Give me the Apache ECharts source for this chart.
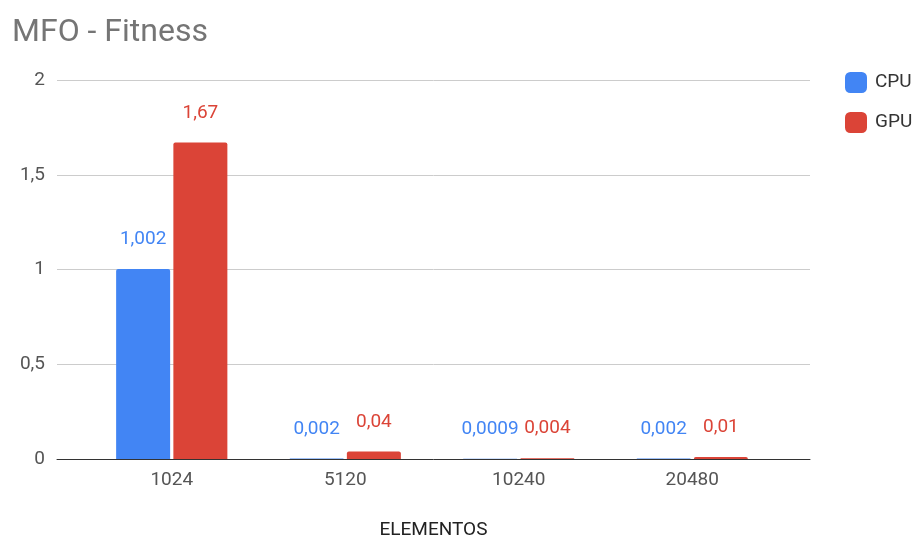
<!DOCTYPE html>
<html><head><meta charset="utf-8">
<script src="https://cdn.jsdelivr.net/npm/echarts@6/dist/echarts.min.js"></script>
<style>html,body{margin:0;padding:0;background:#fff}#c{width:914px;height:541px}</style>
</head><body><div id="c"></div>
<script>
const categories = ['1024', '5120', '10240', '20480'];
const cpu = [1.002, 0.002, 0.0009, 0.002];
const gpu = [1.67, 0.04, 0.004, 0.01];
const yTicks = [0, 0.5, 1, 1.5, 2];

const fmt = v => String(v).replace('.', ',');
const chart = echarts.init(document.getElementById('c'));
const font = 'Roboto';
const fs = 19;
chart.setOption({
  animation: false,
  textStyle: { fontFamily: font },
  title: { text: 'MFO - Fitness', left: 7, top: 12, textStyle: { fontFamily: font, fontSize: 32, fontWeight: 'normal', color: '#757575' } },
  legend: {
    orient: 'vertical', left: 840, top: 67, itemWidth: 22, itemHeight: 21, itemGap: 19,
    icon: 'roundRect',
    textStyle: { fontFamily: font, fontSize: fs, color: '#333', padding: [0, 0, 0, 3] },
    data: ['CPU', 'GPU']
  },
  grid: [
    { left: 57, right: 104, top: 80, bottom: 82, containLabel: false, outerBoundsMode: 'none' },
    { left: 85, right: 135, top: 80, bottom: 82, containLabel: false, outerBoundsMode: 'none' }
  ],
  xAxis: [
    { gridIndex: 0, type: 'category', data: categories, axisLine: { lineStyle: { color: '#333' } }, axisTick: { show: false }, axisLabel: { show: false },
      name: 'ELEMENTOS', nameLocation: 'middle', nameGap: 62, nameTextStyle: { fontFamily: font, fontSize: fs, color: '#222' } },
    { gridIndex: 1, type: 'category', data: categories, axisLine: { show: false }, axisTick: { show: false },
      axisLabel: { fontFamily: font, fontSize: fs, color: '#555', margin: 12 } }
  ],
  yAxis: [
    { gridIndex: 0, type: 'value', min: 0, max: 2, interval: 0.5, axisLine: { show: false }, axisTick: { show: false },
      axisLabel: { fontFamily: font, fontSize: fs, color: '#555', margin: 12, formatter: v => yTicks.includes(v) ? fmt(v) : '' },
      splitLine: { lineStyle: { color: '#ccc' } } },
    { gridIndex: 1, type: 'value', min: 0, max: 2, interval: 0.5, show: false, splitLine: { show: false } }
  ],
  series: [
    { name: 'CPU', type: 'bar', xAxisIndex: 1, yAxisIndex: 1, data: cpu, barWidth: 54, barGap: '6%', z: 3,
      itemStyle: { color: '#4285F4', borderRadius: [2, 2, 0, 0] },
      label: { show: true, position: 'top', distance: 20, fontFamily: font, fontSize: fs, color: '#4285F4', formatter: p => fmt(p.value) } },
    { name: 'GPU', type: 'bar', xAxisIndex: 1, yAxisIndex: 1, data: gpu, barWidth: 54, barGap: '6%', z: 3,
      itemStyle: { color: '#DB4437', borderRadius: [2, 2, 0, 0] },
      label: { show: true, position: 'top', distance: 20, fontFamily: font, fontSize: fs, color: '#DB4437', formatter: p => fmt(p.value) } }
  ]
});
</script></body></html>
